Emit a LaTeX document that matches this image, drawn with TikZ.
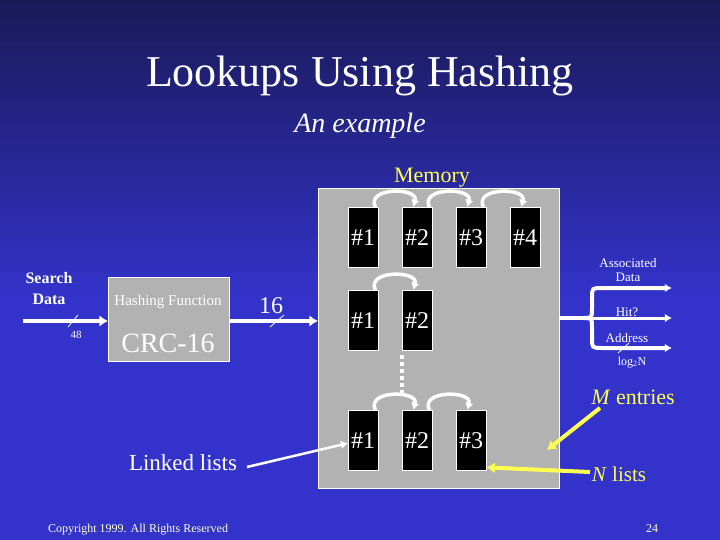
\documentclass[tikz,border=0pt]{standalone}
\usepackage{fontspec}
\setmainfont{Liberation Serif}
\usepackage{tikz}
\usetikzlibrary{positioning,arrows.meta,calc}
\definecolor{SlideBlue}{RGB}{51,51,204}
\definecolor{SlideNavy}{RGB}{26,26,88}
\definecolor{MemGray}{RGB}{178,178,178}
\definecolor{NoteYellow}{RGB}{255,255,80}
\definecolor{FootYellow}{RGB}{255,255,200}
\tikzset{
    cell/.style={draw=white,fill=black,text=white,minimum width=30pt,minimum height=60pt,inner sep=0pt,font=\fontsize{24}{24}\selectfont},
    hop/.style={white,line width=3.5pt,-{Latex[length=2.5mm,width=3mm]}},
    fatarrow/.style={white,line width=4.5pt,-{Latex[length=3mm,width=4mm]}},
    yelarrow/.style={NoteYellow,line width=4pt,-{Latex[length=3mm,width=4mm]}},
    buswidth/.style={white,line width=0.8pt},
    txt/.style={text=white,anchor=base,inner sep=0pt}
}
\newcommand{\cellhop}[2]{%
    \draw[hop] ([xshift=-3pt]#1.north east) .. controls +(-10,-20) and +(6,-20) .. ([xshift=-4pt]#2.north);
}
\begin{document}
\begin{tikzpicture}[x=1pt,y=-1pt]
    \useasboundingbox (0,0) rectangle (720,540);
    \shade[top color=SlideNavy,bottom color=SlideBlue] (0,0) rectangle (720,300);
    \fill[SlideBlue] (0,299) rectangle (720,540);
    \node[txt,font=\fontsize{44}{44}\selectfont] (title) at (360,87) {Lookups Using Hashing};
    \node[txt,font=\fontsize{28}{28}\selectfont\itshape] (subtitle) at (360,133) {An example};
    % memory block
    \node[draw=white,fill=MemGray,minimum width=241pt,minimum height=300pt,inner sep=0pt,anchor=north west] (mem) at (318,188) {};
    \node[txt,text=NoteYellow,font=\fontsize{22}{22}\selectfont] (memlabel) at (432,183) {Memory};
    \foreach \r/\top/\n in {1/207/4,2/290/2,3/410/3}{
        \foreach \c in {1,...,\n}{
            \node[cell,anchor=north west] (r\r-\c) at ({348+54*(\c-1)},\top) {\#\c};
        }
    }
    \cellhop{r1-1}{r1-2}
    \cellhop{r1-2}{r1-3}
    \cellhop{r1-3}{r1-4}
    \cellhop{r2-1}{r2-2}
    \cellhop{r3-1}{r3-2}
    \cellhop{r3-2}{r3-3}
    \draw[white,line width=4pt,dash pattern=on 4pt off 3pt] ([yshift=-5pt]r2-2.south west) -- ([yshift=15pt]r3-2.north west);
    % hashing
    \node[draw=white,fill=MemGray,minimum width=121pt,minimum height=84pt,inner sep=0pt,anchor=north west] (hash) at (108,277) {};
    \node[txt,font=\fontsize{15}{15}\selectfont] (hashname) at (168,305) {Hashing Function};
    \node[txt,font=\fontsize{28}{28}\selectfont] (crc) at (168,352) {CRC-16};
    \node[txt,font=\fontsize{16}{21}\selectfont\bfseries,align=center,anchor=north] (search) at (49,272) {Search\\Data};
    \coordinate (src) at (23,321);
    \draw[fatarrow] (src) -- (hash.west |- src);
    \draw[buswidth] (68,327) -- (78,315);
    \node[txt,font=\fontsize{11}{11}\selectfont] (w48) at (76,338) {48};
    \draw[fatarrow] (hash.east |- src) -- (mem.west |- src);
    \draw[buswidth] (270,327) -- (284,315);
    \node[txt,font=\fontsize{24}{24}\selectfont] (w16) at (271,313) {16};
    % outputs
    \coordinate (fork) at (584,318);
    \coordinate (outA) at (672,288);
    \coordinate (outB) at (672,318);
    \coordinate (outC) at (672,348);
    \draw[white,line width=4.5pt] (mem.east |- fork) -- (fork);
    \draw[white,line width=4pt,-{Latex[length=2.5mm,width=3mm]}] (fork) .. controls (592,318) .. (592,308) -- (592,298) .. controls (592,288) .. (602,288) -- (outA);
    \draw[white,line width=4pt,-{Latex[length=2.5mm,width=3mm]}] (fork) .. controls (592,318) .. (592,328) -- (592,338) .. controls (592,348) .. (602,348) -- (outC);
    \draw[white,line width=3pt,-{Latex[length=2.5mm,width=3mm]}] (593,318) -- (outB);
    \node[txt,font=\fontsize{13}{13}\selectfont] (assoc) at (628,267) {Associated};
    \node[txt,font=\fontsize{13}{13}\selectfont] (assocdata) at (628,281) {Data};
    \node[txt,font=\fontsize{13}{13}\selectfont] (hit) at (627,316) {Hit?};
    \node[txt,font=\fontsize{13}{13}\selectfont] (addr) at (627,342) {Address};
    \draw[buswidth] (618,353) -- (629,343);
    \node[txt,font=\fontsize{12}{12}\selectfont] (logn) at (632,365) {log\textsubscript{2}N};
    % annotations
    \node[txt,text=NoteYellow,font=\fontsize{22}{22}\selectfont] (mentries) at (633,404) {\textit{M} entries};
    \coordinate (mtail) at (600,408);
    \coordinate (mtip) at (547,450);
    \draw[yelarrow] (mtail) -- (mtip);
    \node[txt,text=NoteYellow,font=\fontsize{21}{21}\selectfont] (nlists) at (619,481) {\textit{N} lists};
    \coordinate (ntail) at (590,472);
    \draw[yelarrow] (ntail) -- ([yshift=3pt]r3-3.south east);
    \node[txt,font=\fontsize{23}{23}\selectfont] (linked) at (183,470) {Linked lists};
    \coordinate (ltail) at (247,467);
    \draw[white,line width=2.5pt,-{Latex[length=2.5mm,width=3mm]}] (ltail) -- ([yshift=-3pt]r3-1.west);
    \node[txt,text=FootYellow,font=\fontsize{12}{12}\selectfont] (copy) at (138,532) {Copyright 1999. All Rights Reserved};
    \node[txt,text=FootYellow,font=\fontsize{12}{12}\selectfont] (page) at (652,532) {24};
\end{tikzpicture}
\end{document}
